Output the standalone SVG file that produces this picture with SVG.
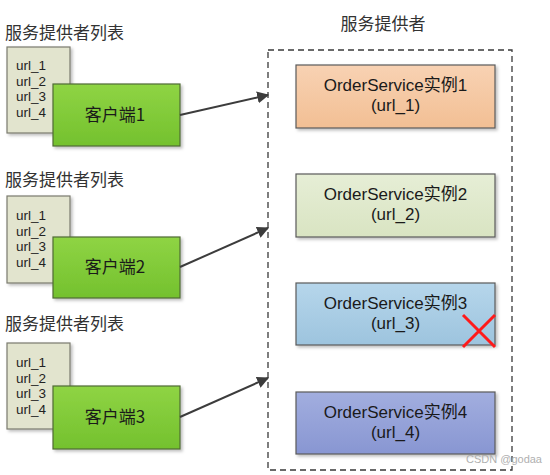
<svg xmlns="http://www.w3.org/2000/svg" width="550" height="475" viewBox="0 0 550 475">
<defs>
<style>
text{font-family:"Microsoft YaHei","Noto Sans CJK SC","Noto Sans",sans-serif;fill:#1a1a1a}
.title{font-size:17px;fill:#333}
.url{font-size:13.5px;fill:#222;font-family:"Liberation Sans",sans-serif}
.cli{font-size:17px;text-anchor:middle}
.svc{font-size:17px;text-anchor:middle;font-family:"Liberation Sans","Noto Sans CJK SC",sans-serif}
.list{fill:#E2E4CE;stroke:#7b7b6e;stroke-width:1.2}
.client{fill:url(#gGreen);stroke:#4f6b35;stroke-width:1.2}
.box{stroke:#5a5a5a;stroke-width:1.2}
.conn{stroke:#3c3c3c;stroke-width:2;fill:none}
</style>
<linearGradient id="gGreen" x1="0" y1="0" x2="0" y2="1"><stop offset="0" stop-color="#8fd444"/><stop offset="1" stop-color="#74c12e"/></linearGradient>
<linearGradient id="g1" x1="0" y1="0" x2="0" y2="1"><stop offset="0" stop-color="#F8D2B3"/><stop offset="1" stop-color="#F2BF94"/></linearGradient>
<linearGradient id="g2" x1="0" y1="0" x2="0" y2="1"><stop offset="0" stop-color="#E6EED6"/><stop offset="1" stop-color="#D9E4C2"/></linearGradient>
<linearGradient id="g3" x1="0" y1="0" x2="0" y2="1"><stop offset="0" stop-color="#B6D6EB"/><stop offset="1" stop-color="#9DC4DE"/></linearGradient>
<linearGradient id="g4" x1="0" y1="0" x2="0" y2="1"><stop offset="0" stop-color="#A2AEDF"/><stop offset="1" stop-color="#8896D2"/></linearGradient>
<filter id="sh" x="-10%" y="-10%" width="130%" height="130%"><feDropShadow dx="2" dy="2" stdDeviation="1.5" flood-color="#000" flood-opacity="0.25"/></filter>
<marker id="arr" viewBox="0 0 10 10" refX="9" refY="5" markerWidth="6" markerHeight="6" orient="auto" markerUnits="strokeWidth"><path d="M0,0 L10,5 L0,10 z" fill="#3c3c3c"/></marker>
</defs>
<rect width="550" height="475" fill="#fff"/>

<g id="client-group-1">
<text class="title" x="5" y="39">服务提供者列表</text>
<rect class="list" x="7" y="47" width="63" height="86" filter="url(#sh)"/>
<text class="url" x="16" y="70">url_1</text>
<text class="url" x="16" y="85.5">url_2</text>
<text class="url" x="16" y="101">url_3</text>
<text class="url" x="16" y="116.5">url_4</text>
<rect class="client" x="53" y="84" width="127" height="62" filter="url(#sh)"/>
<text class="cli" x="115" y="121">客户端1</text>
</g>

<g id="client-group-2">
<text class="title" x="5" y="186">服务提供者列表</text>
<rect class="list" x="7" y="196" width="63" height="87" filter="url(#sh)"/>
<text class="url" x="16" y="220">url_1</text>
<text class="url" x="16" y="235.5">url_2</text>
<text class="url" x="16" y="251">url_3</text>
<text class="url" x="16" y="266.5">url_4</text>
<rect class="client" x="53" y="237" width="127" height="61" filter="url(#sh)"/>
<text class="cli" x="115" y="273">客户端2</text>
</g>

<g id="client-group-3">
<text class="title" x="5" y="330">服务提供者列表</text>
<rect class="list" x="7" y="343" width="63" height="86" filter="url(#sh)"/>
<text class="url" x="16" y="367">url_1</text>
<text class="url" x="16" y="382.5">url_2</text>
<text class="url" x="16" y="398">url_3</text>
<text class="url" x="16" y="413.5">url_4</text>
<rect class="client" x="53" y="386" width="127" height="63" filter="url(#sh)"/>
<text class="cli" x="115" y="423">客户端3</text>
</g>

<g id="providers">
<text class="title" x="383" y="30" text-anchor="middle">服务提供者</text>
<rect x="268" y="50" width="244" height="420" fill="none" stroke="#3a3a3a" stroke-width="1.3" stroke-dasharray="6,4"/>
</g>

<g id="svc1">
<rect class="box" x="296" y="65" width="199" height="63" fill="url(#g1)" filter="url(#sh)"/>
<text class="svc" x="395.5" y="91">OrderService实例1</text>
<text class="svc" x="395.5" y="111">(url_1)</text>
</g>
<g id="svc2">
<rect class="box" x="296" y="174" width="199" height="63" fill="url(#g2)" filter="url(#sh)"/>
<text class="svc" x="395.5" y="200">OrderService实例2</text>
<text class="svc" x="395.5" y="220">(url_2)</text>
</g>
<g id="svc3">
<rect class="box" x="296" y="283" width="199" height="62" fill="url(#g3)" filter="url(#sh)"/>
<text class="svc" x="395.5" y="309">OrderService实例3</text>
<text class="svc" x="395.5" y="329">(url_3)</text>
<path d="M463,315 L495,347 M495,315 L463,347" stroke="#ff1a1a" stroke-width="3" fill="none"/>
</g>
<g id="svc4">
<rect class="box" x="296" y="392" width="199" height="62" fill="url(#g4)" filter="url(#sh)"/>
<text class="svc" x="395.5" y="418">OrderService实例4</text>
<text class="svc" x="395.5" y="438">(url_4)</text>
</g>

<g id="connectors">
<line class="conn" x1="180" y1="115" x2="268" y2="95" marker-end="url(#arr)"/>
<line class="conn" x1="180" y1="267" x2="268" y2="228" marker-end="url(#arr)"/>
<line class="conn" x1="180" y1="417" x2="268" y2="378" marker-end="url(#arr)"/>
</g>

<text x="466" y="463" style="font-size:11px;fill:#b0b0b0;font-family:'Liberation Sans',sans-serif">CSDN @godaa</text>
</svg>
